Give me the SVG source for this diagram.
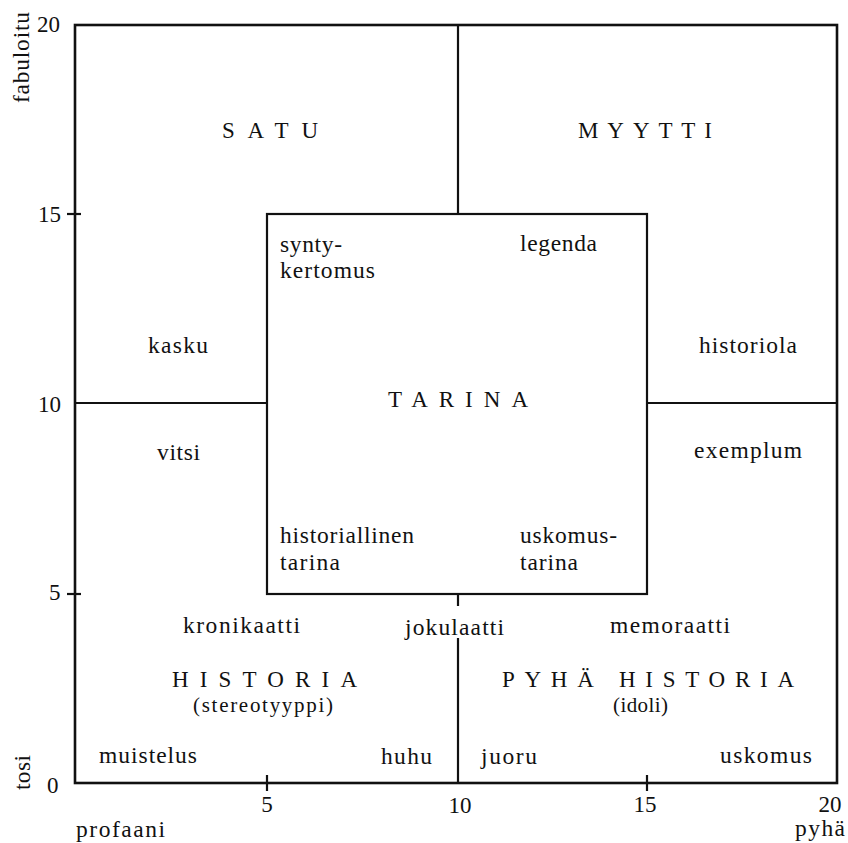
<svg xmlns="http://www.w3.org/2000/svg" width="848" height="843" viewBox="0 0 848 843">
<style>
text { font-family: "Liberation Serif", "Times New Roman", serif; font-size: 23.5px; fill: #111; }
.cap { font-size: 23px; }
.num { font-size: 23px; }
.sub { font-size: 21px; }
.ln { stroke: #111; stroke-width: 2.2; fill: none; }
.frame { stroke: #111; stroke-width: 2.6; fill: none; }
</style>
<rect width="848" height="843" fill="#fff"/>

<g id="axes">
  <rect class="frame" x="75" y="25" width="762" height="758"/>
  <line class="ln" x1="67" y1="214" x2="81" y2="214"/>
  <line class="ln" x1="67" y1="594" x2="81" y2="594"/>
  <line class="ln" x1="267" y1="775" x2="267" y2="791"/>
  <line class="ln" x1="647" y1="775" x2="647" y2="791"/>
  <text class="num" x="37" y="32">20</text>
  <text class="num" x="38" y="222">15</text>
  <text class="num" x="38" y="412">10</text>
  <text class="num" x="49" y="600">5</text>
  <text class="num" x="47" y="793">0</text>
  <text class="num" x="267" y="812" text-anchor="middle">5</text>
  <text class="num" x="460" y="813" text-anchor="middle">10</text>
  <text class="num" x="645" y="812" text-anchor="middle">15</text>
  <text class="num" x="830" y="812" text-anchor="middle">20</text>
  <text x="76" y="837" textLength="89" lengthAdjust="spacing">profaani</text>
  <text x="795" y="836" textLength="50" lengthAdjust="spacing">pyhä</text>
  <text transform="translate(29,103) rotate(-90)" textLength="91" lengthAdjust="spacing">fabuloitu</text>
  <text transform="translate(30,790) rotate(-90)" textLength="35" lengthAdjust="spacing">tosi</text>
</g>

<g id="connectors">
  <line class="ln" x1="458" y1="25" x2="458" y2="214"/>
  <line class="ln" x1="458" y1="594" x2="458" y2="606"/>
  <line class="ln" x1="458" y1="638" x2="458" y2="783"/>
  <line class="ln" x1="75" y1="403" x2="267" y2="403"/>
  <line class="ln" x1="647" y1="403" x2="837" y2="403"/>
</g>

<g id="satu">
  <text class="cap" x="222" y="138" textLength="96" lengthAdjust="spacing">SATU</text>
  <text x="148" y="353" textLength="60" lengthAdjust="spacing">kasku</text>
  <text x="157" y="460" textLength="43" lengthAdjust="spacing">vitsi</text>
</g>

<g id="myytti">
  <text class="cap" x="578" y="138" textLength="134" lengthAdjust="spacing">MYYTTI</text>
  <text x="699" y="353" textLength="98" lengthAdjust="spacing">historiola</text>
  <text x="694" y="458" textLength="108" lengthAdjust="spacing">exemplum</text>
</g>

<g id="tarina">
  <rect class="ln" x="267" y="214" width="380" height="380"/>
  <text class="cap" x="388" y="407" textLength="140" lengthAdjust="spacing">TARINA</text>
  <text x="280" y="252" textLength="62" lengthAdjust="spacing">synty-</text>
  <text x="280" y="278" textLength="95" lengthAdjust="spacing">kertomus</text>
  <text x="520" y="251" textLength="77" lengthAdjust="spacing">legenda</text>
  <text x="280" y="543" textLength="134" lengthAdjust="spacing">historiallinen</text>
  <text x="280" y="570" textLength="60" lengthAdjust="spacing">tarina</text>
  <text x="520" y="543" textLength="97" lengthAdjust="spacing">uskomus-</text>
  <text x="520" y="570" textLength="58" lengthAdjust="spacing">tarina</text>
</g>

<g id="historia">
  <text x="183" y="633" textLength="117" lengthAdjust="spacing">kronikaatti</text>
  <text class="cap" x="172" y="687" textLength="185" lengthAdjust="spacing">HISTORIA</text>
  <text class="sub" x="193" y="712" textLength="140" lengthAdjust="spacing">(stereotyyppi)</text>
  <text x="99" y="763" textLength="98" lengthAdjust="spacing">muistelus</text>
  <text x="381" y="764" textLength="51" lengthAdjust="spacing">huhu</text>
</g>

<g id="jokulaatti">
  <text x="405" y="635" textLength="99" lengthAdjust="spacing">jokulaatti</text>
</g>

<g id="pyha-historia">
  <text x="610" y="633" textLength="120" lengthAdjust="spacing">memoraatti</text>
  <text class="cap" x="502" y="687" textLength="292" lengthAdjust="spacing">PYHÄ HISTORIA</text>
  <text class="sub" x="613" y="712" textLength="55" lengthAdjust="spacing">(idoli)</text>
  <text x="481" y="764" textLength="56" lengthAdjust="spacing">juoru</text>
  <text x="720" y="763" textLength="92" lengthAdjust="spacing">uskomus</text>
</g>
</svg>
